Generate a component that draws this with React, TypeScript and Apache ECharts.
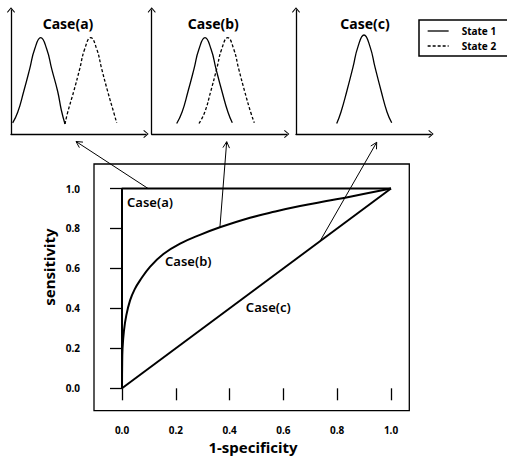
import React, { useEffect, useRef } from 'react';
import * as echarts from 'echarts';

// ROC curves (x = 1-specificity, y = sensitivity)
const caseA: number[][] = [[0, 0], [0, 1], [1, 1]];
const caseB: number[][] = [
  [0, 0], [0.0005, 0.1], [0.002, 0.2], [0.0074, 0.29], [0.016, 0.365], [0.03, 0.44],
  [0.047, 0.495], [0.067, 0.54], [0.104, 0.608], [0.154, 0.672], [0.216, 0.724], [0.29, 0.768],
  [0.364, 0.806], [0.476, 0.854], [0.57, 0.885], [0.662, 0.912], [0.76, 0.937], [0.848, 0.959], [1, 1],
];
const caseC: number[][] = [[0, 0], [1, 1]];
const axisTicks = [0, 0.2, 0.4, 0.6, 0.8, 1.0];
const caseNames = ['Case(a)', 'Case(b)', 'Case(c)'];
const stateNames = ['State 1', 'State 2'];

// small distribution panels (panel units)
const aState1X = [1.7, 6.7, 12.7, 18.7, 23.7, 29.7, 35.7, 40.7, 46.7, 50.3, 54];
const aState1Y = [11.2, 21.7, 42.5, 65.1, 85.0, 96.3, 85.0, 65.1, 42.5, 24, 10];
const aState2X = [54, 56.7, 62.7, 68.7, 73.7, 79.7, 85.7, 90.7, 96.7, 102.7, 105.7];
const aState2Y = [10, 21.7, 42.5, 65.1, 85.0, 96.3, 85.0, 65.1, 42.5, 21.7, 11.2];
const bState1X = [25, 30.3, 36.3, 42.3, 47.3, 53.3, 59.3, 64.3, 70.3, 76.3, 80.6];
const bState1Y = [10.5, 21.7, 42.5, 65.1, 85.0, 96.3, 85.0, 65.1, 42.5, 21.7, 11.2];
const bState2X = [47.3, 53, 59, 65, 70, 76, 82, 87, 93, 99, 102.6];
const bState2Y = [10.5, 21.7, 42.5, 65.1, 85.0, 96.3, 85.0, 65.1, 42.5, 21.7, 11.2];
const cState1X = [40.7, 45, 51, 57, 62, 68, 74, 79, 85, 91, 95.7];
const cState1Y = [10.5, 22.0, 43.5, 66.8, 87.4, 99, 87.4, 66.8, 43.5, 22.0, 11.3];

// arrows: from a point on each ROC curve to a point under each panel
const arrowFrom: number[][] = [[0.097, 1], [0.364, 0.806], [0.736, 0.736]];
const arrowTo: number[][] = [[65, -7.5], [75, -7.7], [80.7, -8.3]];

const zip = (xs: number[], ys: number[]) => xs.map((x, i) => [x, ys[i]]);

const FONT = '"Noto Sans", "DejaVu Sans", sans-serif';
const panelLefts = [11, 151.7, 296];

export default function App() {
  const ref = useRef<HTMLDivElement>(null);
  useEffect(() => {
    if (!ref.current) return;
    const chart = echarts.init(ref.current, null, { renderer: 'svg' });
    const arrowSym = 'path://M0,0 L6,7 L5,8 L0,2 L-5,8 L-6,7 Z';
    const smallX = (i: number) => ({
      type: 'value', gridIndex: 2 + i, min: 0, max: 135,
      axisLine: { show: true, symbol: ['none', arrowSym], symbolSize: [8, 6], lineStyle: { color: '#000', width: 1.3 } },
      axisTick: { show: false }, axisLabel: { show: false }, splitLine: { show: false },
    });
    const smallY = (i: number) => ({
      type: 'value', gridIndex: 2 + i, min: 0, max: 124,
      axisLine: { show: true, symbol: ['none', arrowSym], symbolSize: [8, 6], lineStyle: { color: '#000', width: 1.3 } },
      axisTick: { show: false }, axisLabel: { show: false }, splitLine: { show: false },
    });
    const tickLabel = { color: '#000', fontWeight: 'bold', fontSize: 10, fontFamily: FONT, margin: 14, formatter: (v: number) => v.toFixed(1) };
    const smallSeries = (name: string, data: number[][], idx: number, dashed: boolean) => ({
      type: 'line', name, data, xAxisIndex: idx, yAxisIndex: idx, smooth: true, symbol: 'none', clip: false,
      lineStyle: { color: '#000', width: 1.3, type: dashed ? [3, 2] : 'solid' },
      itemStyle: { color: '#000' },
    });
    const option: any = {
      animation: false,
      grid: [
        { left: 122, top: 188.5, width: 269, height: 199.8 },
        { left: 94, top: 164, width: 315.3, height: 246.7, show: true, borderColor: '#000', borderWidth: 1.3, backgroundColor: 'transparent' },
        { left: panelLefts[0], top: 10, width: 135, height: 124 },
        { left: panelLefts[1], top: 10, width: 135, height: 124 },
        { left: panelLefts[2], top: 10, width: 135, height: 124 },
      ],
      xAxis: [
        {
          type: 'value', gridIndex: 0, min: axisTicks[0], max: axisTicks[axisTicks.length - 1], interval: 0.2, offset: 22.4,
          axisLine: { show: false }, axisTick: { show: true, length: 12, lineStyle: { color: '#000', width: 1.3 } },
          axisLabel: tickLabel, splitLine: { show: false },
        },
        { type: 'value', gridIndex: 1, show: false },
        smallX(0), smallX(1), smallX(2),
      ],
      yAxis: [
        {
          type: 'value', gridIndex: 0, min: axisTicks[0], max: axisTicks[axisTicks.length - 1], interval: 0.2, offset: 28,
          axisLine: { show: false }, axisTick: { show: true, length: 12, lineStyle: { color: '#000', width: 1.3 } },
          axisLabel: tickLabel, splitLine: { show: false },
        },
        { type: 'value', gridIndex: 1, show: false },
        smallY(0), smallY(1), smallY(2),
      ],
      legend: {
        data: stateNames, orient: 'vertical', left: 419, top: 20,
        borderColor: '#000', borderWidth: 1.5, borderRadius: 0, padding: [6, 14, 5, 8],
        itemWidth: 21, itemHeight: 12, itemGap: 5,
        itemStyle: { opacity: 0 },
        lineStyle: { width: 1.3 },
        textStyle: { color: '#000', fontWeight: 'bold', fontSize: 10, fontFamily: FONT, padding: [0, 0, 0, 8] },
      },
      series: [
        { type: 'line', name: caseNames[0], data: caseA, xAxisIndex: 0, yAxisIndex: 0, symbol: 'none', clip: false, lineStyle: { color: '#000', width: 2 } },
        { type: 'line', name: caseNames[1], data: caseB, xAxisIndex: 0, yAxisIndex: 0, symbol: 'none', clip: false, smooth: 0.4, lineStyle: { color: '#000', width: 2 } },
        { type: 'line', name: caseNames[2], data: caseC, xAxisIndex: 0, yAxisIndex: 0, symbol: 'none', clip: false, lineStyle: { color: '#000', width: 2 } },
        smallSeries(stateNames[0], zip(aState1X, aState1Y), 2, false),
        smallSeries(stateNames[1], zip(aState2X, aState2Y), 2, true),
        smallSeries(stateNames[0], zip(bState1X, bState1Y), 3, false),
        smallSeries(stateNames[1], zip(bState2X, bState2Y), 3, true),
        smallSeries(stateNames[0], zip(cState1X, cState1Y), 4, false),
      ],
    };
    chart.setOption(option);

    const graphics: any[] = [];
    arrowFrom.forEach((p, i) => {
      const s = chart.convertToPixel({ xAxisIndex: 0, yAxisIndex: 0 } as any, p) as number[];
      const e = chart.convertToPixel({ xAxisIndex: 2 + i, yAxisIndex: 2 + i } as any, arrowTo[i]) as number[];
      graphics.push({ type: 'line', shape: { x1: s[0], y1: s[1], x2: e[0], y2: e[1] }, style: { stroke: '#000', lineWidth: 1 } });
      const dx = s[0] - e[0], dy = s[1] - e[1];
      const len = Math.hypot(dx, dy);
      const ux = dx / len, uy = dy / len;
      const th = (28 * Math.PI) / 180, L = 7;
      const r = (a: number) => [e[0] + L * (ux * Math.cos(a) - uy * Math.sin(a)), e[1] + L * (ux * Math.sin(a) + uy * Math.cos(a))];
      graphics.push({ type: 'polyline', shape: { points: [r(th), e, r(-th)] }, style: { stroke: '#000', lineWidth: 1, fill: 'none' } });
    });
    const titleCenters = [68, 213.3, 365];
    caseNames.forEach((t, i) => {
      graphics.push({ type: 'text', x: titleCenters[i], y: 23, style: { text: t, fill: '#000', font: `bold 14px ${FONT}`, align: 'center', verticalAlign: 'middle' } });
    });
    const labelPos = [[150, 201.5], [188.3, 261], [268.3, 306.7]];
    caseNames.forEach((t, i) => {
      graphics.push({ type: 'text', x: labelPos[i][0], y: labelPos[i][1], style: { text: t, fill: '#000', font: `600 13px ${FONT}`, align: 'center', verticalAlign: 'middle' } });
    });
    graphics.push({ type: 'text', x: 49, y: 267, rotation: Math.PI / 2, style: { text: 'sensitivity', fill: '#000', font: `bold 15px ${FONT}`, align: 'center', verticalAlign: 'middle' } });
    graphics.push({ type: 'text', x: 253, y: 447, style: { text: '1-specificity', fill: '#000', font: `bold 15px ${FONT}`, align: 'center', verticalAlign: 'middle' } });
    chart.setOption({ graphic: graphics });

    return () => chart.dispose();
  }, []);
  return <div ref={ref} style={{ width: 507, height: 457, position: 'absolute', left: 0, top: 0 }} />;
}
